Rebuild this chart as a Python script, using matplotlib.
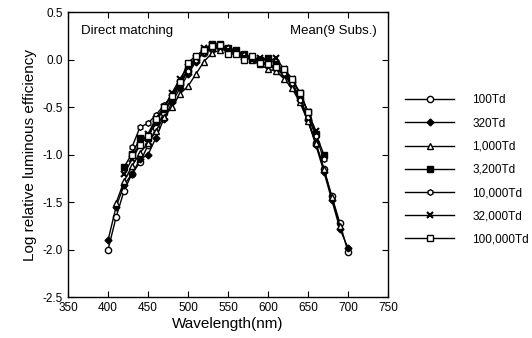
import matplotlib

matplotlib.use("Agg")
import matplotlib.pyplot as plt
import numpy as np

nan = np.nan

wavelength = np.arange(400, 701, 10)

# values per series, 400..700 nm in 10 nm steps (nan = not measured)
td_100 = [-2.00, -1.66, -1.38, -1.20, -1.08, -0.90, -0.72, -0.56, -0.42, -0.26,
          -0.12, 0.00, 0.07, 0.11, 0.13, 0.10, 0.07, 0.05, 0.02, -0.02,
          -0.04, -0.09, -0.14, -0.24, -0.40, -0.62, -0.88, -1.15, -1.44, -1.72, -2.02]
td_320 = [-1.90, -1.55, -1.32, -1.20, -1.05, -1.00, -0.82, -0.62, -0.45, -0.30,
          -0.15, -0.02, 0.08, 0.12, 0.15, 0.12, 0.08, 0.04, 0.01, -0.03,
          -0.06, -0.10, -0.16, -0.27, -0.43, -0.64, -0.90, -1.18, -1.48, -1.78, -1.98]
td_1000 = [nan, -1.51, -1.28, -1.12, -0.98, -0.88, -0.75, -0.60, -0.50, -0.36,
           -0.28, -0.15, -0.02, 0.07, 0.10, 0.11, 0.07, 0.03, 0.00, -0.05,
           -0.10, -0.12, -0.20, -0.30, -0.45, -0.65, -0.88, -1.15, -1.45, -1.75, nan]
td_3200 = [nan, nan, -1.13, -0.99, -0.83, -0.82, -0.65, -0.52, -0.42, -0.25,
           -0.10, 0.02, 0.10, 0.17, 0.16, 0.12, 0.10, 0.06, 0.02, 0.00,
           0.02, -0.05, -0.12, -0.22, -0.35, -0.55, -0.78, -1.00, nan, nan, nan]
td_10000 = [nan, nan, nan, -0.92, -0.71, -0.67, -0.58, -0.48, -0.38, -0.22,
            -0.12, 0.00, 0.08, 0.12, 0.14, 0.12, 0.08, 0.05, 0.02, -0.02,
            -0.06, -0.08, -0.14, -0.25, -0.42, -0.60, -0.80, -1.05, nan, nan, nan]
td_32000 = [nan, nan, -1.20, -1.05, -0.90, -0.78, -0.62, -0.50, -0.35, -0.20,
            -0.08, 0.02, 0.12, 0.15, 0.14, 0.10, 0.08, 0.03, 0.00, 0.02,
            -0.02, 0.02, -0.10, -0.20, -0.35, -0.55, -0.75, nan, nan, nan, nan]
td_100000 = [nan, nan, nan, -1.00, -0.90, -0.80, -0.62, -0.50, -0.38, -0.23,
             -0.03, 0.04, 0.10, 0.14, 0.15, 0.06, 0.06, 0.00, 0.04, -0.04,
             -0.05, -0.08, -0.10, -0.20, -0.35, -0.55, nan, nan, nan, nan, nan]

series = [
    ("100Td", td_100, dict(marker="o", mfc="white", ms=4.5)),
    ("320Td", td_320, dict(marker="D", mfc="black", ms=3.5)),
    ("1,000Td", td_1000, dict(marker="^", mfc="white", ms=4.5)),
    ("3,200Td", td_3200, dict(marker="s", mfc="black", ms=4)),
    ("10,000Td", td_10000, dict(marker="h", mfc="white", ms=4)),
    ("32,000Td", td_32000, dict(marker="x", mfc="black", ms=4, mew=1.5)),
    ("100,000Td", td_100000, dict(marker="s", mfc="white", ms=4.5)),
]

plt.rcParams["font.family"] = ["Liberation Sans", "DejaVu Sans"]

fig = plt.figure(figsize=(5.32, 3.38), dpi=100)
ax = fig.add_axes([0.128, 0.121, 0.601, 0.843])

for label, values, style in series:
    ax.plot(wavelength, values, color="black", lw=1.0, mec="black", label=label, **style)

ax.set_xlim(350, 750)
ax.set_ylim(-2.5, 0.5)
ax.set_xticks(np.arange(350, 751, 50))
ax.set_yticks(np.arange(-2.5, 0.51, 0.5))
ax.yaxis.set_major_formatter(matplotlib.ticker.FormatStrFormatter("%.1f"))
ax.tick_params(direction="in", top=True, right=True, labelsize=8.5, length=4)
for spine in ax.spines.values():
    spine.set_linewidth(1.0)

ax.set_xlabel("Wavelength(nm)", fontsize=11, labelpad=2)
ax.set_ylabel("Log relative luminous efficiency", fontsize=11)
ax.text(0.04, 0.955, "Direct matching", transform=ax.transAxes, fontsize=9.5, va="top")
ax.text(0.965, 0.955, "Mean(9 Subs.)", transform=ax.transAxes, fontsize=9.5,
        va="top", ha="right")

ax.legend(loc="upper left", bbox_to_anchor=(0.752, 0.735), bbox_transform=fig.transFigure,
          frameon=False, fontsize=8.5, handlelength=4.2, handletextpad=1.5,
          labelspacing=0.95, borderaxespad=0)

fig.savefig("out.png", dpi=100)
